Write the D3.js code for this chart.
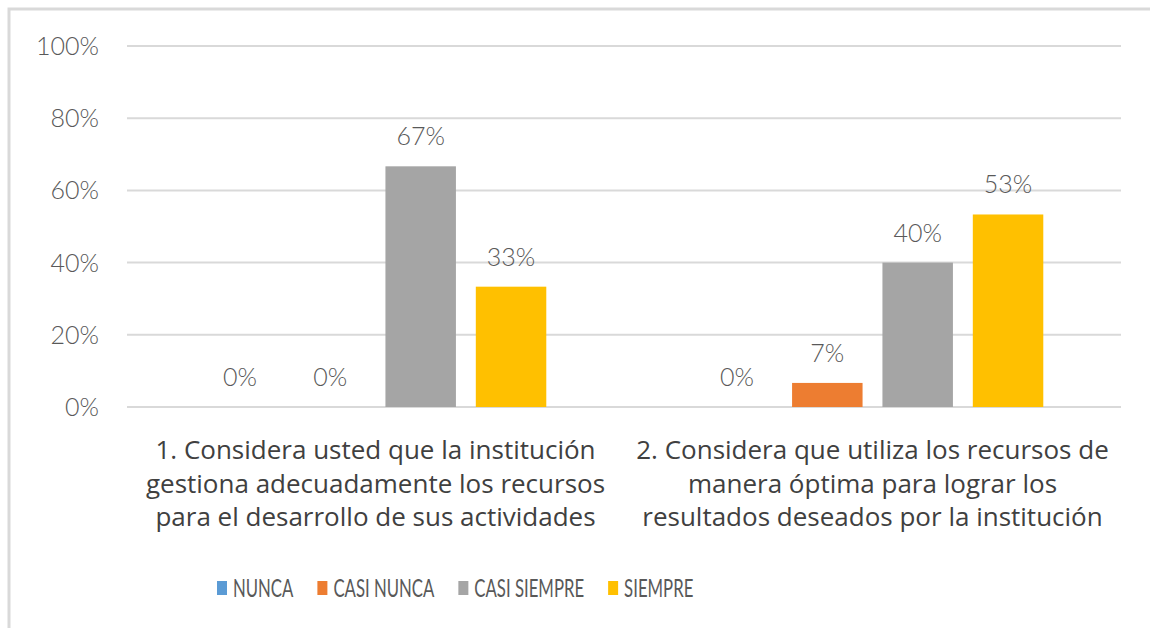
<!DOCTYPE html>
<html>
<head>
<meta charset="utf-8">
<script src="https://cdn.jsdelivr.net/npm/d3@7"></script>
<style>
  body { margin: 0; background: #fff; }
  svg { display: block; font-family: Lato, "Open Sans", sans-serif; }
</style>
</head>
<body>
<div id="chart"></div>
<script>
// Data
const categories = [
  ["1. Considera usted que la institución", "gestiona adecuadamente los recursos", "para el desarrollo de sus actividades"],
  ["2. Considera que utiliza los recursos de", "manera óptima para lograr los", "resultados deseados por la institución"]
];
const seriesNames = ["NUNCA", "CASI NUNCA", "CASI SIEMPRE", "SIEMPRE"];
const seriesColors = ["#5B9BD5", "#ED7D31", "#A5A5A5", "#FFC000"];
// values per category, in series order (percent)
const values = [
  [0, 0, 66.67, 33.33],
  [0, 6.67, 40, 53.33]
];
const yTicks = [0, 20, 40, 60, 80, 100];

const W = 1150, H = 628;
const plot = { left: 127, right: 1121, top: 46, bottom: 407 };
const textColor = "#595959";

const svg = d3.select("#chart").append("svg")
  .attr("width", W).attr("height", H);

// chart frame (cropped at right and bottom)
svg.append("rect")
  .attr("x", 9).attr("y", 9)
  .attr("width", W + 20).attr("height", H + 20)
  .attr("fill", "#fff")
  .attr("stroke", "#D9D9D9")
  .attr("stroke-width", 3);

// Scales
const x0 = d3.scaleBand()
  .domain(d3.range(categories.length))
  .range([plot.left, plot.right]);

const x1 = d3.scaleBand()
  .domain(seriesNames)
  .range([0, x0.bandwidth()])
  .paddingInner(0.22)
  .paddingOuter(0.86);

const y = d3.scaleLinear()
  .domain([0, 100])
  .range([plot.bottom, plot.top]);

// Gridlines
svg.append("g")
  .selectAll("line")
  .data(yTicks)
  .join("line")
  .attr("x1", plot.left).attr("x2", plot.right)
  .attr("y1", d => y(d)).attr("y2", d => y(d))
  .attr("stroke", "#D9D9D9")
  .attr("stroke-width", 2);

// Y axis labels
svg.append("g")
  .selectAll("text")
  .data(yTicks)
  .join("text")
  .attr("x", 99)
  .attr("y", d => y(d) + 9)
  .attr("text-anchor", "end")
  .attr("fill", textColor)
  .style("font-size", "25px")
  .style("font-weight", 300)
  .text(d => d + "%");

// Bars
const groups = svg.append("g")
  .selectAll("g")
  .data(values)
  .join("g")
  .attr("transform", (d, i) => `translate(${x0(i)},0)`);

groups.selectAll("rect")
  .data(d => d.map((v, j) => ({ v, s: seriesNames[j], c: seriesColors[j] })))
  .join("rect")
  .attr("x", d => x1(d.s))
  .attr("y", d => y(d.v))
  .attr("width", x1.bandwidth())
  .attr("height", d => y(0) - y(d.v))
  .attr("fill", d => d.c);

// Value labels
groups.selectAll("text")
  .data(d => d.map((v, j) => ({ v, s: seriesNames[j] })))
  .join("text")
  .attr("x", d => x1(d.s) + x1.bandwidth() / 2)
  .attr("y", d => y(d.v) - 21)
  .attr("text-anchor", "middle")
  .attr("fill", textColor)
  .style("font-size", "25px")
  .style("font-weight", 300)
  .text(d => Math.round(d.v) + "%");

// Category labels
const catLabels = svg.append("g")
  .selectAll("text")
  .data(categories)
  .join("text")
  .attr("x", (d, i) => x0(i) + x0.bandwidth() / 2)
  .attr("y", 459)
  .attr("text-anchor", "middle")
  .attr("fill", "#404040")
  .style("font-family", "'Open Sans', sans-serif")
  .style("font-size", "26px");

catLabels.selectAll("tspan")
  .data(d => d)
  .join("tspan")
  .attr("x", function () { return d3.select(this.parentNode).attr("x"); })
  .attr("dy", (d, i) => i === 0 ? 0 : 33.5)
  .text(d => d);

// Legend
const legend = svg.append("g").attr("transform", "translate(217,0)");
let lx = 0;
seriesNames.forEach((name, i) => {
  const item = legend.append("g").attr("transform", `translate(${lx},0)`);
  item.append("rect")
    .attr("x", 0).attr("y", 581)
    .attr("width", 10).attr("height", 14)
    .attr("fill", seriesColors[i]);
  const t = item.append("text")
    .attr("transform", "translate(16,597) scale(0.67,1)")
    .attr("fill", textColor)
    .style("font-size", "25px")
    .text(name);
  const tw = t.node().getComputedTextLength() * 0.67;
  lx += 16 + tw + 24;
});
</script>
</body>
</html>
